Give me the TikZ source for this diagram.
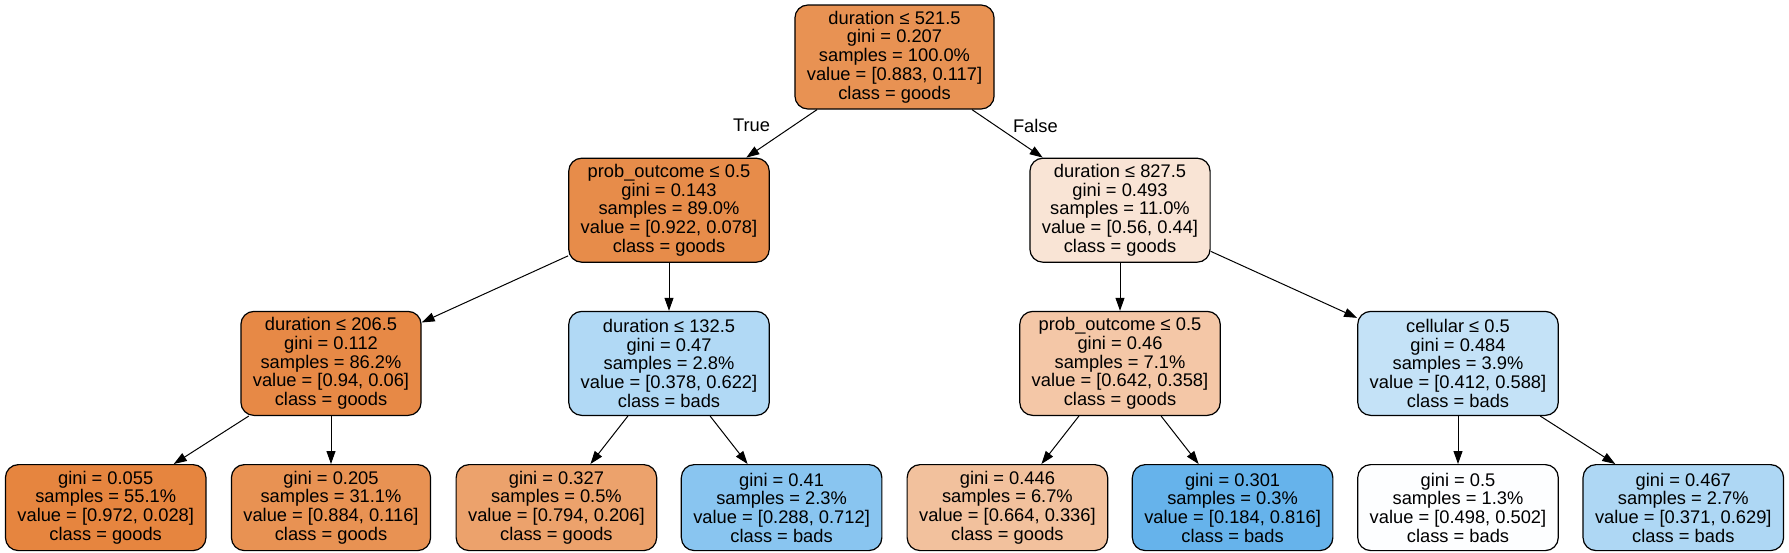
\documentclass[tikz,border=0pt]{standalone}
\usepackage{fontspec}
\setmainfont{Liberation Sans}
\usetikzlibrary{arrows.meta, positioning}

% Fuellfarben der Knoten
\definecolor{fDurA}{RGB}{232,146,83}
\definecolor{fProbA}{RGB}{231,140,74}
\definecolor{fDurB}{RGB}{249,228,213}
\definecolor{fDurC}{RGB}{231,137,70}
\definecolor{fDurD}{RGB}{177,217,245}
\definecolor{fProbB}{RGB}{244,199,167}
\definecolor{fCell}{RGB}{196,226,247}
\definecolor{fLfA}{RGB}{230,133,63}
\definecolor{fLfB}{RGB}{232,146,83}
\definecolor{fLfC}{RGB}{236,162,108}
\definecolor{fLfD}{RGB}{137,197,240}
\definecolor{fLfE}{RGB}{242,193,157}
\definecolor{fLfF}{RGB}{102,179,235}
\definecolor{fLfG}{RGB}{253,254,255}
\definecolor{fLfH}{RGB}{174,215,244}

\begin{document}
\begin{tikzpicture}[x=1pt, y=1pt, node distance=48pt, >={Triangle[length=13pt, width=9pt]},
  box/.style={draw, line width=1.2pt, rounded corners=13pt, align=center, inner xsep=12pt, inner ysep=0pt, font=\fontsize{18.3}{18.75}\selectfont},
  split/.style={box, minimum height=104pt},
  leaf/.style={box, minimum height=86pt},
  link/.style={->, line width=1pt},
  elabel/.style={inner sep=0pt, font=\fontsize{18.3}{18.75}\selectfont}]
  \useasboundingbox (0,0) rectangle (1789,-552);

  % Wurzel
  \node[split, fill=fDurA] (durA) at (894.5,-57) {duration ≤ 521.5\\gini = 0.207\\samples = 100.0\%\\value = [0.883, 0.117]\\class = goods};

  % Ebene 1
  \node[split, fill=fProbA, below=of durA, xshift=-225.5pt] (probA) {prob\_outcome ≤ 0.5\\gini = 0.143\\samples = 89.0\%\\value = [0.922, 0.078]\\class = goods};
  \node[split, fill=fDurB, below=of durA, xshift=225.5pt] (durB) {duration ≤ 827.5\\gini = 0.493\\samples = 11.0\%\\value = [0.56, 0.44]\\class = goods};

  % Ebene 2
  \node[split, fill=fDurC, below=of probA, xshift=-338pt] (durC) {duration ≤ 206.5\\gini = 0.112\\samples = 86.2\%\\value = [0.94, 0.06]\\class = goods};
  \node[split, fill=fDurD, below=of probA] (durD) {duration ≤ 132.5\\gini = 0.47\\samples = 2.8\%\\value = [0.378, 0.622]\\class = bads};
  \node[split, fill=fProbB, below=of durB] (probB) {prob\_outcome ≤ 0.5\\gini = 0.46\\samples = 7.1\%\\value = [0.642, 0.358]\\class = goods};
  \node[split, fill=fCell, below=of durB, xshift=338pt] (cell) {cellular ≤ 0.5\\gini = 0.484\\samples = 3.9\%\\value = [0.412, 0.588]\\class = bads};

  % Blaetter
  \node[leaf, fill=fLfA, below=of durC, xshift=-225.3pt] (lfA) {gini = 0.055\\samples = 55.1\%\\value = [0.972, 0.028]\\class = goods};
  \node[leaf, fill=fLfB, below=of durC] (lfB) {gini = 0.205\\samples = 31.1\%\\value = [0.884, 0.116]\\class = goods};
  \node[leaf, fill=fLfC, below=of durD, xshift=-112.6pt] (lfC) {gini = 0.327\\samples = 0.5\%\\value = [0.794, 0.206]\\class = goods};
  \node[leaf, fill=fLfD, below=of durD, xshift=112.6pt] (lfD) {gini = 0.41\\samples = 2.3\%\\value = [0.288, 0.712]\\class = bads};
  \node[leaf, fill=fLfE, below=of probB, xshift=-112.6pt] (lfE) {gini = 0.446\\samples = 6.7\%\\value = [0.664, 0.336]\\class = goods};
  \node[leaf, fill=fLfF, below=of probB, xshift=112.6pt] (lfF) {gini = 0.301\\samples = 0.3\%\\value = [0.184, 0.816]\\class = bads};
  \node[leaf, fill=fLfG, below=of cell] (lfG) {gini = 0.5\\samples = 1.3\%\\value = [0.498, 0.502]\\class = bads};
  \node[leaf, fill=fLfH, below=of cell, xshift=225.3pt] (lfH) {gini = 0.467\\samples = 2.7\%\\value = [0.371, 0.629]\\class = bads};

  % Kanten
  \draw[link] (durA) -- node[elabel, pos=0.333, left=23pt] (trueLab) {True} (probA);
  \draw[link] (durA) -- node[elabel, pos=0.333, right=17pt] (falseLab) {False} (durB);
  \draw[link] (probA) -- (durC);
  \draw[link] (probA) -- (durD);
  \draw[link] (durB) -- (probB);
  \draw[link] (durB) -- (cell);
  \draw[link] (durC) -- (lfA);
  \draw[link] (durC) -- (lfB);
  \draw[link] (durD) -- (lfC);
  \draw[link] (durD) -- (lfD);
  \draw[link] (probB) -- (lfE);
  \draw[link] (probB) -- (lfF);
  \draw[link] (cell) -- (lfG);
  \draw[link] (cell) -- (lfH);
\end{tikzpicture}
\end{document}
